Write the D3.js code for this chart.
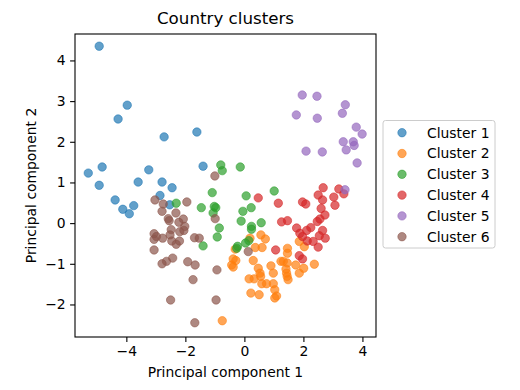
<!DOCTYPE html>
<head>
  <meta charset="utf-8">
  <script src="https://d3js.org/d3.v7.min.js"></script>
  <style>
    body { margin:0; background:#fff; }
    text { font-family: "DejaVu Sans", sans-serif; fill:#000; }
  </style>
</head>
<body>
<script>

// cluster names + colours (tab10)
var clusterNames = ["Cluster 1", "Cluster 2", "Cluster 3", "Cluster 4", "Cluster 5", "Cluster 6"];
var clusterColors = ["#1f77b4", "#ff7f0e", "#2ca02c", "#d62728", "#9467bd", "#8c564b"];

var xTicks = [-4, -2, 0, 2, 4];
var yTicks = [-2, -1, 0, 1, 2, 3, 4];

// points, [pc1, pc2]
var cluster1 = [[-4.92,4.35],[-3.97,2.90],[-4.28,2.56],[-2.72,2.12],[-1.61,2.24],[-5.29,1.23],
  [-4.82,1.38],[-3.24,1.31],[-1.40,1.40],[-4.92,0.93],[-3.60,1.01],[-2.79,1.01],[-2.45,0.87],
  [-2.86,0.68],[-4.38,0.57],[-4.12,0.34],[-3.75,0.43],[-3.90,0.23],[-2.53,0.45]];

var cluster2 = [[0.56,-0.29],[0.71,-0.39],[0.19,-0.37],[0.37,-0.60],[0.60,-0.60],[-0.31,-0.64],
  [-0.38,-0.88],[-0.29,-0.92],[-0.43,-1.03],[-0.38,-1.08],[0.30,-0.92],[0.47,-1.11],[0.53,-1.23],
  [0.16,-1.37],[0.33,-1.37],[0.55,-1.31],[0.59,-1.49],[0.75,-1.49],[0.98,-1.49],[0.90,-1.05],
  [0.98,-1.23],[0.22,-1.72],[0.50,-1.76],[1.09,-1.79],[1.03,-1.84],[1.03,-1.64],[1.46,-0.62],
  [1.46,-0.74],[1.32,-0.94],[1.45,-0.98],[1.41,-1.13],[1.43,-1.23],[1.45,-1.31],[1.48,-1.39],
  [1.74,-1.03],[1.86,-1.23],[2.01,-1.11],[2.37,-1.01],[1.86,-0.45],[2.03,-0.58],[-0.75,-2.40],
  [1.24,-0.94]];

var cluster3 = [[-0.80,1.43],[-0.75,1.29],[-1.09,0.75],[-2.31,0.49],[-1.46,0.38],[-1.02,0.41],
  [-0.97,0.38],[-1.06,0.25],[-0.85,-0.12],[-0.92,-0.34],[-1.40,-0.56],[-0.14,1.38],[0.06,0.67],
  [1.01,0.79],[-0.05,0.29],[0.23,0.38],[-0.11,0.05],[0.57,0.01],[0.24,-0.08],[0.24,-0.15],
  [0.15,-0.43],[0.04,-0.49],[-0.23,-0.57],[-0.26,-0.62]];

var cluster4 = [[2.67,0.87],[3.20,0.84],[3.37,0.72],[2.50,0.69],[2.65,0.57],[3.03,0.64],[3.07,0.44],
  [0.47,0.62],[1.15,0.49],[1.97,0.52],[2.08,0.47],[2.60,0.36],[2.73,0.20],[2.56,0.10],[2.47,0.04],
  [1.26,0.03],[1.46,0.06],[1.77,-0.12],[2.25,-0.11],[2.11,-0.18],[1.88,-0.25],[1.97,-0.33],
  [2.65,-0.18],[2.54,-0.31],[2.74,-0.37],[2.33,-0.45],[2.50,-0.59],[2.13,-0.44],[1.86,-0.80],
  [1.97,-0.88],[1.06,-0.66]];

var cluster5 = [[1.96,3.15],[2.46,3.12],[3.42,2.91],[3.32,2.70],[1.76,2.66],[2.47,2.58],[3.79,2.36],
  [3.99,2.19],[3.35,2.00],[3.69,2.00],[3.72,1.91],[3.45,1.80],[2.09,1.77],[2.64,1.75],[3.82,1.48],
  [3.41,0.82]];

var cluster6 = [[-3.03,0.57],[-2.75,0.47],[-1.95,0.52],[-2.79,0.29],[-2.32,0.25],[-2.58,0.11],
  [-2.55,0.06],[-2.07,0.10],[-2.22,0.02],[-2.02,-0.08],[-2.19,-0.21],[-2.05,-0.18],[-2.48,-0.16],
  [-3.06,-0.26],[-2.98,-0.33],[-3.06,-0.40],[-2.77,-0.37],[-2.52,-0.29],[-2.46,-0.44],[-2.20,-0.44],
  [-2.31,-0.52],[-1.69,-0.36],[-1.53,-0.37],[-3.06,-0.66],[-2.43,-0.86],[-2.64,-0.94],[-2.79,-1.00],
  [-1.92,-0.95],[-1.67,-1.03],[-1.74,-1.39],[-2.50,-1.89],[-0.96,-1.89],[-1.68,-2.45],[-0.93,-1.15],
  [-0.99,0.11],[-1.00,1.16],[0.13,-0.70]];

var clusters = [cluster1, cluster2, cluster3, cluster4, cluster5, cluster6];

var width = 520, height = 390;
var plotLeft = 75, plotRight = 376, plotTop = 34, plotBottom = 337;

var svg = d3.select("body").append("svg")
  .attr("width", width)
  .attr("height", height);

var x = d3.scaleLinear().domain([-5.74, 4.46]).range([plotLeft, plotRight]);
var y = d3.scaleLinear().domain([-2.80, 4.65]).range([plotBottom, plotTop]);

// points, cluster 1 first so the later ones sit on top
clusters.forEach(function(pts, i) {
  svg.append("g")
    .selectAll("circle")
    .data(pts)
    .enter().append("circle")
    .attr("cx", function(d) { return x(d[0]); })
    .attr("cy", function(d) { return y(d[1]); })
    .attr("r", 4.2)
    .style("fill", clusterColors[i])
    .style("fill-opacity", 0.7)
    .style("stroke", clusterColors[i])
    .style("stroke-opacity", 0.7)
    .style("stroke-width", 0.8);
});

// axes
var xAxis = svg.append("g")
  .attr("transform", "translate(0," + plotBottom + ")")
  .call(d3.axisBottom(x).tickValues(xTicks).tickSize(4.9).tickPadding(4.5).tickFormat(d3.format("d")));
var yAxis = svg.append("g")
  .attr("transform", "translate(" + plotLeft + ",0)")
  .call(d3.axisLeft(y).tickValues(yTicks).tickSize(4.9).tickPadding(4.5).tickFormat(d3.format("d")));

[xAxis, yAxis].forEach(function(a) {
  a.select(".domain").remove();
  a.selectAll("line").style("stroke", "#000").style("stroke-width", 1.1);
  a.selectAll("text").style("font-size", "13.9px").style("font-family", "DejaVu Sans");
});

// frame
svg.append("rect")
  .attr("x", plotLeft).attr("y", plotTop)
  .attr("width", plotRight - plotLeft).attr("height", plotBottom - plotTop)
  .style("fill", "none").style("stroke", "#000").style("stroke-width", 1.1);

// titles
svg.append("text")
  .attr("x", (plotLeft + plotRight) / 2).attr("y", 24)
  .attr("text-anchor", "middle")
  .style("font-size", "16.7px")
  .text("Country clusters");

svg.append("text")
  .attr("x", (plotLeft + plotRight) / 2).attr("y", 377)
  .attr("text-anchor", "middle")
  .style("font-size", "13.9px")
  .text("Principal component 1");

svg.append("text")
  .attr("transform", "translate(36," + (plotTop + plotBottom) / 2 + ") rotate(-90)")
  .attr("text-anchor", "middle")
  .style("font-size", "13.9px")
  .text("Principal component 2");

// legend
var legend = svg.append("g").attr("transform", "translate(383,120.5)");
legend.append("rect")
  .attr("width", 112).attr("height", 127.5)
  .attr("rx", 2.5)
  .style("fill", "#fff").style("fill-opacity", 0.8)
  .style("stroke", "#ccc").style("stroke-width", 1);

var item = legend.selectAll(".item")
  .data(clusterNames)
  .enter().append("g")
  .attr("transform", function(d, i) { return "translate(0," + (12.2 + i * 20.8) + ")"; });

item.append("circle")
  .attr("cx", 19).attr("r", 4.2)
  .style("fill", function(d, i) { return clusterColors[i]; })
  .style("fill-opacity", 0.7)
  .style("stroke", function(d, i) { return clusterColors[i]; })
  .style("stroke-opacity", 0.7)
  .style("stroke-width", 0.8);

item.append("text")
  .attr("x", 44).attr("dy", "0.35em")
  .style("font-size", "13.9px")
  .text(function(d) { return d; });

</script>
</body>
